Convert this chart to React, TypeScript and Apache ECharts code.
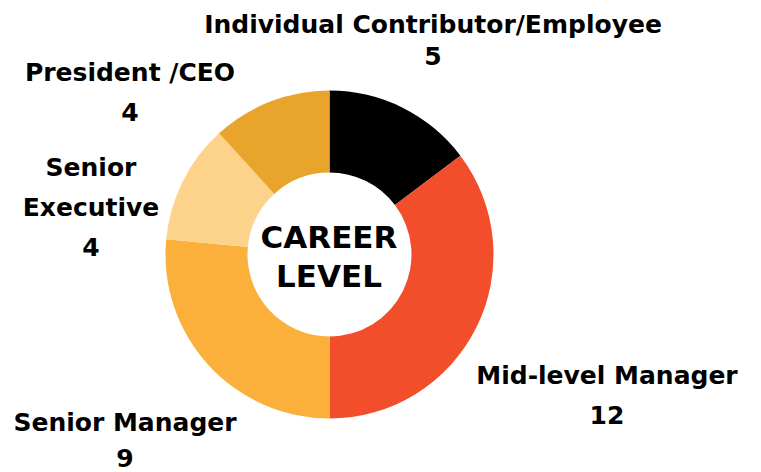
import React, { useEffect, useRef } from "react";
import * as echarts from "echarts";

const categories = [
  "Individual Contributor/Employee",
  "Mid-level Manager",
  "Senior Manager",
  "Senior\nExecutive",
  "President /CEO",
];
const values = [5, 12, 9, 4, 4];
const colors = ["#000000", "#F34E2B", "#FBB03B", "#FDD28A", "#E9A42C"];
const centerTitle = "CAREER\nLEVEL";

// label anchor positions (centre of first line), in px, and line spacing
const labelPos: [number, number][] = [
  [433, 24],
  [607, 375],
  [125, 422],
  [91, 167],
  [130, 72],
];
const labelLineHeights = [32, 40, 36, 40, 40];

const FONT = "'DejaVu Sans', sans-serif";

export default function App() {
  const ref = useRef<HTMLDivElement>(null);
  useEffect(() => {
    if (!ref.current) return;
    const chart = echarts.init(ref.current, undefined, { renderer: "svg" });
    chart.setOption({
      animation: false,
      backgroundColor: "#ffffff",
      graphic: [
        {
          type: "text",
          x: 329,
          y: 256,
          style: {
            text: centerTitle,
            fontFamily: FONT,
            fontWeight: "bold",
            fontSize: 31,
            lineHeight: 39,
            fill: "#000",
            align: "center",
            verticalAlign: "middle",
          },
        },
      ],
      series: [
        {
          type: "pie",
          center: [329.5, 254.5],
          radius: [82, 164],
          startAngle: 90,
          clockwise: true,
          silent: true,
          data: categories.map((name, i) => ({
            name,
            value: values[i],
            itemStyle: { color: colors[i] },
            label: { lineHeight: labelLineHeights[i] },
          })),
          label: {
            show: true,
            position: "outside",
            formatter: "{b}\n{c}",
            fontFamily: FONT,
            fontWeight: "bold",
            fontSize: 25,
            color: "#000",
            align: "center",
            overflow: "none",
          },
          labelLine: { show: false },
          labelLayout: (params: any) => {
            const i = params.dataIndex;
            const p = labelPos[i];
            return {
              x: p[0],
              y: p[1] - labelLineHeights[i] / 2,
              align: "center",
              verticalAlign: "top",
              hideOverlap: false,
            };
          },
        },
      ],
    });
    return () => chart.dispose();
  }, []);
  return (
    <div
      ref={ref}
      style={{ position: "absolute", left: 0, top: 0, width: 761, height: 472 }}
    />
  );
}
